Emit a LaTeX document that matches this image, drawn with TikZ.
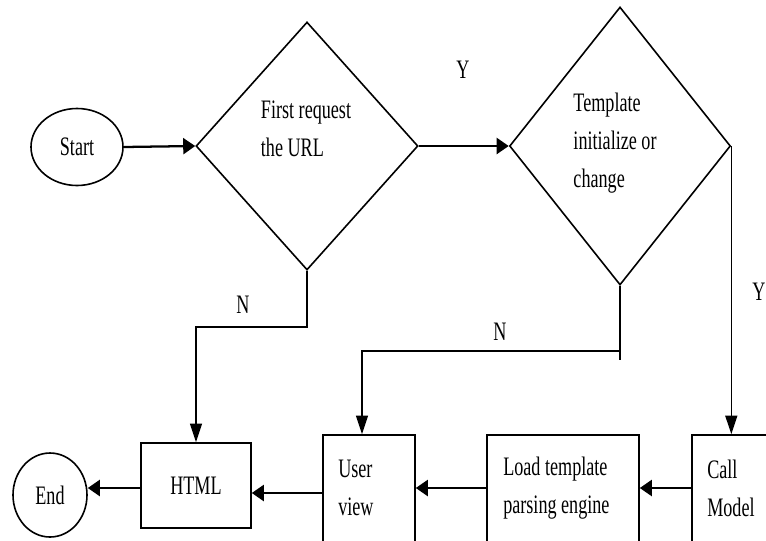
\documentclass[tikz,border=0pt]{standalone}
\usepackage{fontspec}
\setmainfont[FakeStretch=0.68]{Liberation Serif}
\usetikzlibrary{shapes.geometric,arrows.meta}

\begin{document}
\begin{tikzpicture}[x=0.75pt,y=-0.75pt,
  font=\fontsize{20}{28.5}\selectfont,
  outline/.style={draw=black, line width=1.2pt},
  decision/.style={outline, shape=diamond, inner sep=0pt},
  terminal/.style={outline, shape=ellipse, inner sep=0pt},
  stepbox/.style={outline, shape=rectangle, inner sep=0pt},
  txt/.style={inner sep=0pt, align=left},
  wire/.style={line width=1.2pt},
  harr/.style={line width=1.7pt, -{Triangle[length=9pt,width=12pt]}},
  varr/.style={line width=1.2pt, -{Triangle[length=14pt,width=9pt]}},
]
\useasboundingbox (0,0) rectangle (766,540);
\clip (0,0) rectangle (766,540);

% terminals
\node[terminal, minimum width=69pt, minimum height=57.75pt] (start) at (77,147) {Start};
\node[terminal, minimum width=55.5pt, minimum height=63pt] (end) at (50,495) {End};

% decisions
\node[decision, minimum width=166.5pt, minimum height=186pt] (d1) at (307,146) {};
\node[txt] (t1) at (306,129) {First request\\the URL};
\node[decision, minimum width=165.75pt, minimum height=208.5pt] (d2) at (620,146) {};
\node[txt] (t2) at (615,143) {Template\\initialize or\\change};

% process boxes (the bottom row runs off the lower edge)
\node[stepbox, minimum width=82.5pt, minimum height=63.75pt] (html) at (196,485.5) {HTML};
\node[stepbox, minimum width=69pt, minimum height=86.25pt] (uv) at (369,492.5) {};
\node[txt, anchor=west] (uvt) at (338,488) {User\\view};
\node[stepbox, minimum width=114pt, minimum height=86.25pt] (load) at (563,492.5) {};
\node[txt, anchor=west] (loadt) at (503,488) {Load template\\parsing engine};
\node[stepbox, minimum width=73.5pt, minimum height=86.25pt] (call) at (741,492.5) {};
\node[txt, anchor=west] (callt) at (707,488) {Call\\Model};

% branch labels
\node (y1) at (463,70) {Y};
\node (y2) at (759,292) {Y};
\node (n1) at (243,305) {N};
\node (n2) at (500,332) {N};

% helper points
\coordinate (rowA) at (0,488);
\coordinate (rowB) at (0,493);
\coordinate (k1) at (307,327);
\coordinate (k2) at (620,351);
\coordinate (k3) at (620,360);
\coordinate (k4) at (362,351);

% connectors
\draw[harr] (start.east) -- (d1.west);
\draw[harr] (d1.east) -- (d2.west);
\draw[varr] (d2.east) -- (d2.east |- call.north);
\draw[varr] (d1.south) -- (k1) -| (html.north);
\draw[wire] (d2.south) -- (k3);
\draw[varr] (k2) -- (k4) -- (k4 |- uv.north);
\draw[harr] (call.west |- rowA) -- (load.east |- rowA);
\draw[harr] (load.west |- rowA) -- (uv.east |- rowA);
\draw[harr] (uv.west |- rowB) -- (html.east |- rowB);
\draw[harr] (html.west |- rowA) -- (end.east |- rowA);
\end{tikzpicture}
\end{document}
